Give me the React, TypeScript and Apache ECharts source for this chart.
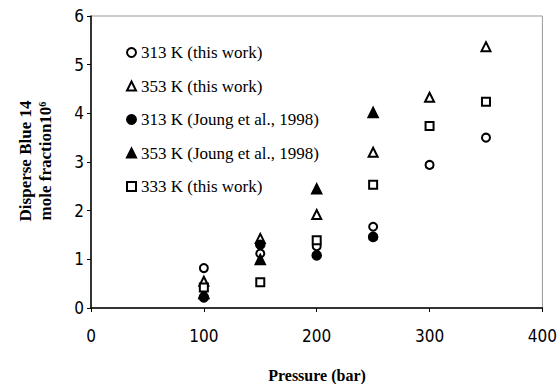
import React, { useEffect, useRef } from "react";
import * as echarts from "echarts";

const pressures = [100, 150, 200, 250, 300, 350];
const s313This = [0.82, 1.12, 1.27, 1.67, 2.94, 3.5];
const s353This = [0.55, 1.43, 1.92, 3.2, 4.33, 5.37];
const pressuresJoung = [100, 150, 200, 250];
const s313Joung = [0.22, 1.3, 1.08, 1.46];
const s353Joung = [0.3, 1.0, 2.45, 4.02];
const s333This = [0.42, 0.53, 1.39, 2.53, 3.74, 4.24];

const names = [
  "313 K (this work)",
  "353 K (this work)",
  "313 K (Joung et al., 1998)",
  "353 K (Joung et al., 1998)",
  "333 K (this work)",
];

const pair = (xs: number[], ys: number[]) => xs.map((x, i) => [x, ys[i]]);

export default function App() {
  const ref = useRef<HTMLDivElement>(null);
  useEffect(() => {
    if (!ref.current) return;
    const chart = echarts.init(ref.current, undefined, { renderer: "svg" });
    const serif = "'Liberation Serif', 'Times New Roman', serif";
    const sans = "'DejaVu Sans Condensed', 'DejaVu Sans', sans-serif";
    const mk = (name: string, data: number[][], symbol: string, size: number) => ({
      name,
      type: "scatter",
      data,
      symbol,
      symbolSize: size,
      itemStyle: { color: "#000", borderColor: "#000", borderWidth: 1.6, opacity: 1 },
    });
    chart.setOption({
      animation: false,
      backgroundColor: "#fff",
      grid: {
        left: 91,
        right: 17,
        top: 16,
        bottom: 76,
        show: true,
        borderColor: "#999",
        borderWidth: 1,
      },
      legend: {
        orient: "vertical",
        left: 121,
        top: 39,
        itemGap: 16.5,
        itemWidth: 9,
        itemHeight: 9,
        data: names,
        textStyle: { fontFamily: serif, fontSize: 17, color: "#000" },
      },
      xAxis: {
        type: "value",
        min: 0,
        max: 400,
        interval: 100,
        axisLine: { show: true, onZero: false, lineStyle: { color: "#000", width: 1.5 } },
        axisTick: { show: true, length: 4, lineStyle: { color: "#000" } },
        splitLine: { show: false },
        axisLabel: { fontFamily: sans, fontSize: 17, color: "#000", margin: 19 },
      },
      yAxis: {
        type: "value",
        min: 0,
        max: 6,
        interval: 1,
        axisLine: { show: true, onZero: false, lineStyle: { color: "#000", width: 1.5 } },
        axisTick: { show: true, length: 4, lineStyle: { color: "#000" } },
        splitLine: { show: false },
        axisLabel: { fontFamily: sans, fontSize: 17, color: "#000", margin: 7 },
      },
      graphic: [
        {
          type: "text",
          x: 317,
          y: 375,
          style: {
            text: "Pressure (bar)",
            font: "bold 16px " + serif,
            fill: "#000",
            align: "center",
            verticalAlign: "middle",
          },
        },
        {
          type: "text",
          x: 35,
          y: 161,
          rotation: Math.PI / 2,
          style: {
            text: "Disperse Blue 14\nmole fraction10\u2076",
            font: "bold 17px " + serif,
            fill: "#000",
            align: "center",
            verticalAlign: "middle",
            lineHeight: 20,
          },
        },
      ],
      series: [
        mk(names[0], pair(pressures, s313This), "emptyCircle", 8),
        mk(names[1], pair(pressures, s353This), "emptyTriangle", 9),
        mk(names[2], pair(pressuresJoung, s313Joung), "circle", 9),
        mk(names[3], pair(pressuresJoung, s353Joung), "triangle", 10),
        mk(names[4], pair(pressures, s333This), "emptyRect", 8),
      ],
    });
    return () => chart.dispose();
  }, []);
  return (
    <div
      ref={ref}
      style={{ position: "absolute", left: 0, top: 0, width: 560, height: 384 }}
    />
  );
}
